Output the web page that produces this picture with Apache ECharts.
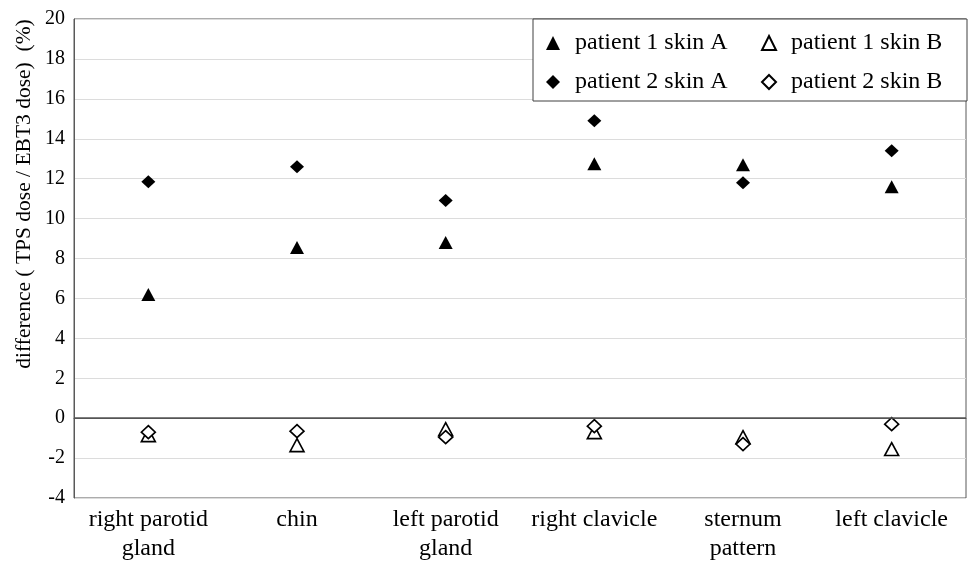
<!DOCTYPE html>
<html>
<head>
<meta charset="utf-8">
<script src="https://cdn.jsdelivr.net/npm/echarts@6/dist/echarts.min.js"></script>
<style>
html,body{margin:0;padding:0;background:#fff;}
#chart{width:968px;height:563px;}
</style>
</head>
<body>
<div id="chart"></div>
<script>
const categories = ['right parotid\ngland', 'chin', 'left parotid\ngland', 'right clavicle', 'sternum\npattern', 'left clavicle'];
const p1SkinA = [6.2, 8.55, 8.8, 12.75, 12.7, 11.6];
const p1SkinB = [-0.85, -1.35, -0.55, -0.7, -0.95, -1.55];
const p2SkinA = [11.85, 12.6, 10.9, 14.9, 11.8, 13.4];
const p2SkinB = [-0.7, -0.65, -0.95, -0.4, -1.3, -0.3];
const seriesNames = ['patient 1 skin A', 'patient 1 skin B', 'patient 2 skin A', 'patient 2 skin B'];
const yTicks = {min: -4, max: 20, interval: 2};
const yAxisTitle = 'difference ( TPS dose / EBT3 dose)  (%)';

const FONT = "'Liberation Serif', 'Times New Roman', serif";
const chart = echarts.init(document.getElementById('chart'));

function mk(name, data, symbol, filled, extra) {
  return Object.assign({
    name: name,
    type: 'scatter',
    data: data,
    symbol: symbol,
    symbolSize: [14, 13],
    itemStyle: filled
      ? {color: '#000', borderColor: '#000', borderWidth: 0, opacity: 1}
      : {color: '#fff', borderColor: '#000', borderWidth: 1.6, opacity: 1},
    emphasis: {disabled: true},
    z: filled ? 3 : 4
  }, extra || {});
}

chart.setOption({
  animation: false,
  backgroundColor: '#fff',
  grid: {left: 74, right: 2, top: 19, bottom: 64, show: true, borderColor: '#595959', borderWidth: 1, backgroundColor: 'transparent'},
  legend: {
    data: seriesNames,
    left: 533,
    top: 19,
    width: 433,
    orient: 'horizontal',
    padding: [12, 5, 7, 13],
    itemGap: 15,
    itemWidth: 14,
    itemHeight: 14,
    borderColor: '#404040',
    borderWidth: 1,
    borderRadius: 0,
    backgroundColor: '#fff',
    textStyle: {fontFamily: FONT, fontSize: 24, color: '#000', width: 171, lineHeight: 16, padding: [0, 0, 0, 10]}
  },
  xAxis: {
    type: 'category',
    data: categories,
    boundaryGap: true,
    axisLine: {show: true, lineStyle: {color: '#595959', width: 1}},
    axisTick: {show: false},
    axisLabel: {fontFamily: FONT, fontSize: 24, color: '#000', lineHeight: 29, margin: 7, interval: 0},
    splitLine: {show: false}
  },
  yAxis: {
    type: 'value',
    min: yTicks.min,
    max: yTicks.max,
    interval: yTicks.interval,
    axisLine: {show: true, lineStyle: {color: '#595959', width: 1}},
    axisTick: {show: false},
    axisLabel: {fontFamily: FONT, fontSize: 20, color: '#000', margin: 9},
    splitLine: {show: true, lineStyle: {color: '#dcdcdc', width: 1}}
  },
  graphic: [{
    type: 'text',
    x: 24,
    y: 194,
    rotation: Math.PI / 2,
    style: {text: yAxisTitle, fontFamily: FONT, fontSize: 21.5, fill: '#000', align: 'center', verticalAlign: 'middle'}
  }],
  series: [
    mk(seriesNames[0], p1SkinA, 'triangle', true, {
      markLine: {silent: true, symbol: 'none', label: {show: false}, lineStyle: {color: '#555', width: 1.5, type: 'solid'}, data: [{yAxis: 0}], animation: false}
    }),
    mk(seriesNames[1], p1SkinB, 'triangle', false),
    mk(seriesNames[2], p2SkinA, 'diamond', true),
    mk(seriesNames[3], p2SkinB, 'diamond', false)
  ]
});
</script>
</body>
</html>
